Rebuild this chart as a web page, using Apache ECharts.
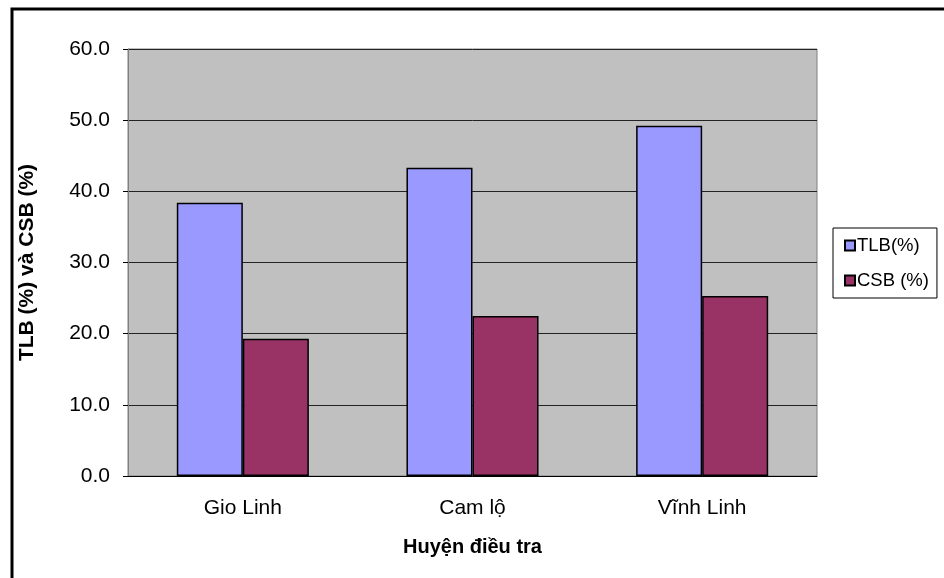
<!DOCTYPE html>
<html>
<head>
<meta charset="utf-8">
<script src="https://cdn.jsdelivr.net/npm/echarts@6/dist/echarts.min.js"></script>
<style>
  html, body { margin: 0; padding: 0; background: #fff; }
  #chart { width: 944px; height: 578px; }
</style>
</head>
<body>
<div id="chart"></div>
<script>
// huyện điều tra
const districts = ["Gio Linh", "Cam lộ", "Vĩnh Linh"];
const tlb = [38.4, 43.3, 49.2];
const csb = [19.3, 22.5, 25.3];
const seriesNames = ["TLB(%)", "CSB (%)"];

const font = "'Liberation Sans', Arial, sans-serif";

const chart = echarts.init(document.getElementById("chart"));
chart.setOption({
  animation: false,
  textStyle: { fontFamily: font },
  graphic: [
    {
      type: "rect",
      shape: { x: 12, y: 9, width: 945, height: 590 },
      style: { fill: "none", stroke: "#000", lineWidth: 3 },
      silent: true
    }
  ],
  grid: {
    left: 128,
    top: 49,
    right: 127,
    bottom: 102,
    show: true,
    backgroundColor: "#C0C0C0",
    borderColor: "#808080",
    borderWidth: 1
  },
  legend: {
    orient: "vertical",
    left: 833,
    top: 228,
    padding: [8, 8, 8, 11],
    itemWidth: 10,
    itemHeight: 10,
    itemGap: 16,
    icon: "rect",
    backgroundColor: "#fff",
    borderColor: "#000",
    borderWidth: 1,
    textStyle: { fontSize: 18.5, color: "#000", fontFamily: font, padding: [0, 0, 0, -3] },
    data: seriesNames
  },
  xAxis: {
    type: "category",
    data: districts,
    name: "Huyện điều tra",
    nameLocation: "middle",
    nameGap: 61,
    nameTextStyle: { fontSize: 20, fontWeight: "bold", color: "#000", fontFamily: font },
    axisLine: { lineStyle: { color: "#000", width: 1 } },
    axisTick: { length: 6, lineStyle: { color: "#000" } },
    axisLabel: { fontSize: 21, color: "#000", margin: 22, fontFamily: font },
    splitLine: { show: false }
  },
  yAxis: {
    type: "value",
    min: 0,
    max: 60,
    interval: 10,
    name: "TLB (%) và CSB (%)",
    nameLocation: "middle",
    nameRotate: 90,
    nameGap: 90,
    nameTextStyle: { fontSize: 21, fontWeight: "bold", color: "#000", fontFamily: font },
    axisLine: { show: true, lineStyle: { color: "#808080" } },
    axisTick: { show: true, length: 5, lineStyle: { color: "#000" } },
    axisLabel: {
      fontSize: 21,
      color: "#000",
      margin: 18,
      fontFamily: font,
      formatter: (v) => v.toFixed(1)
    },
    splitLine: { lineStyle: { color: "#222", width: 1 } }
  },
  series: [
    {
      name: seriesNames[0],
      type: "bar",
      data: tlb,
      barGap: "0%",
      barCategoryGap: "42.5%",
      itemStyle: { color: "#9999FF", borderColor: "#000", borderWidth: 1.5 }
    },
    {
      name: seriesNames[1],
      type: "bar",
      data: csb,
      barGap: "0%",
      barCategoryGap: "42.5%",
      itemStyle: { color: "#993366", borderColor: "#000", borderWidth: 1.5 }
    }
  ]
});
</script>
</body>
</html>
